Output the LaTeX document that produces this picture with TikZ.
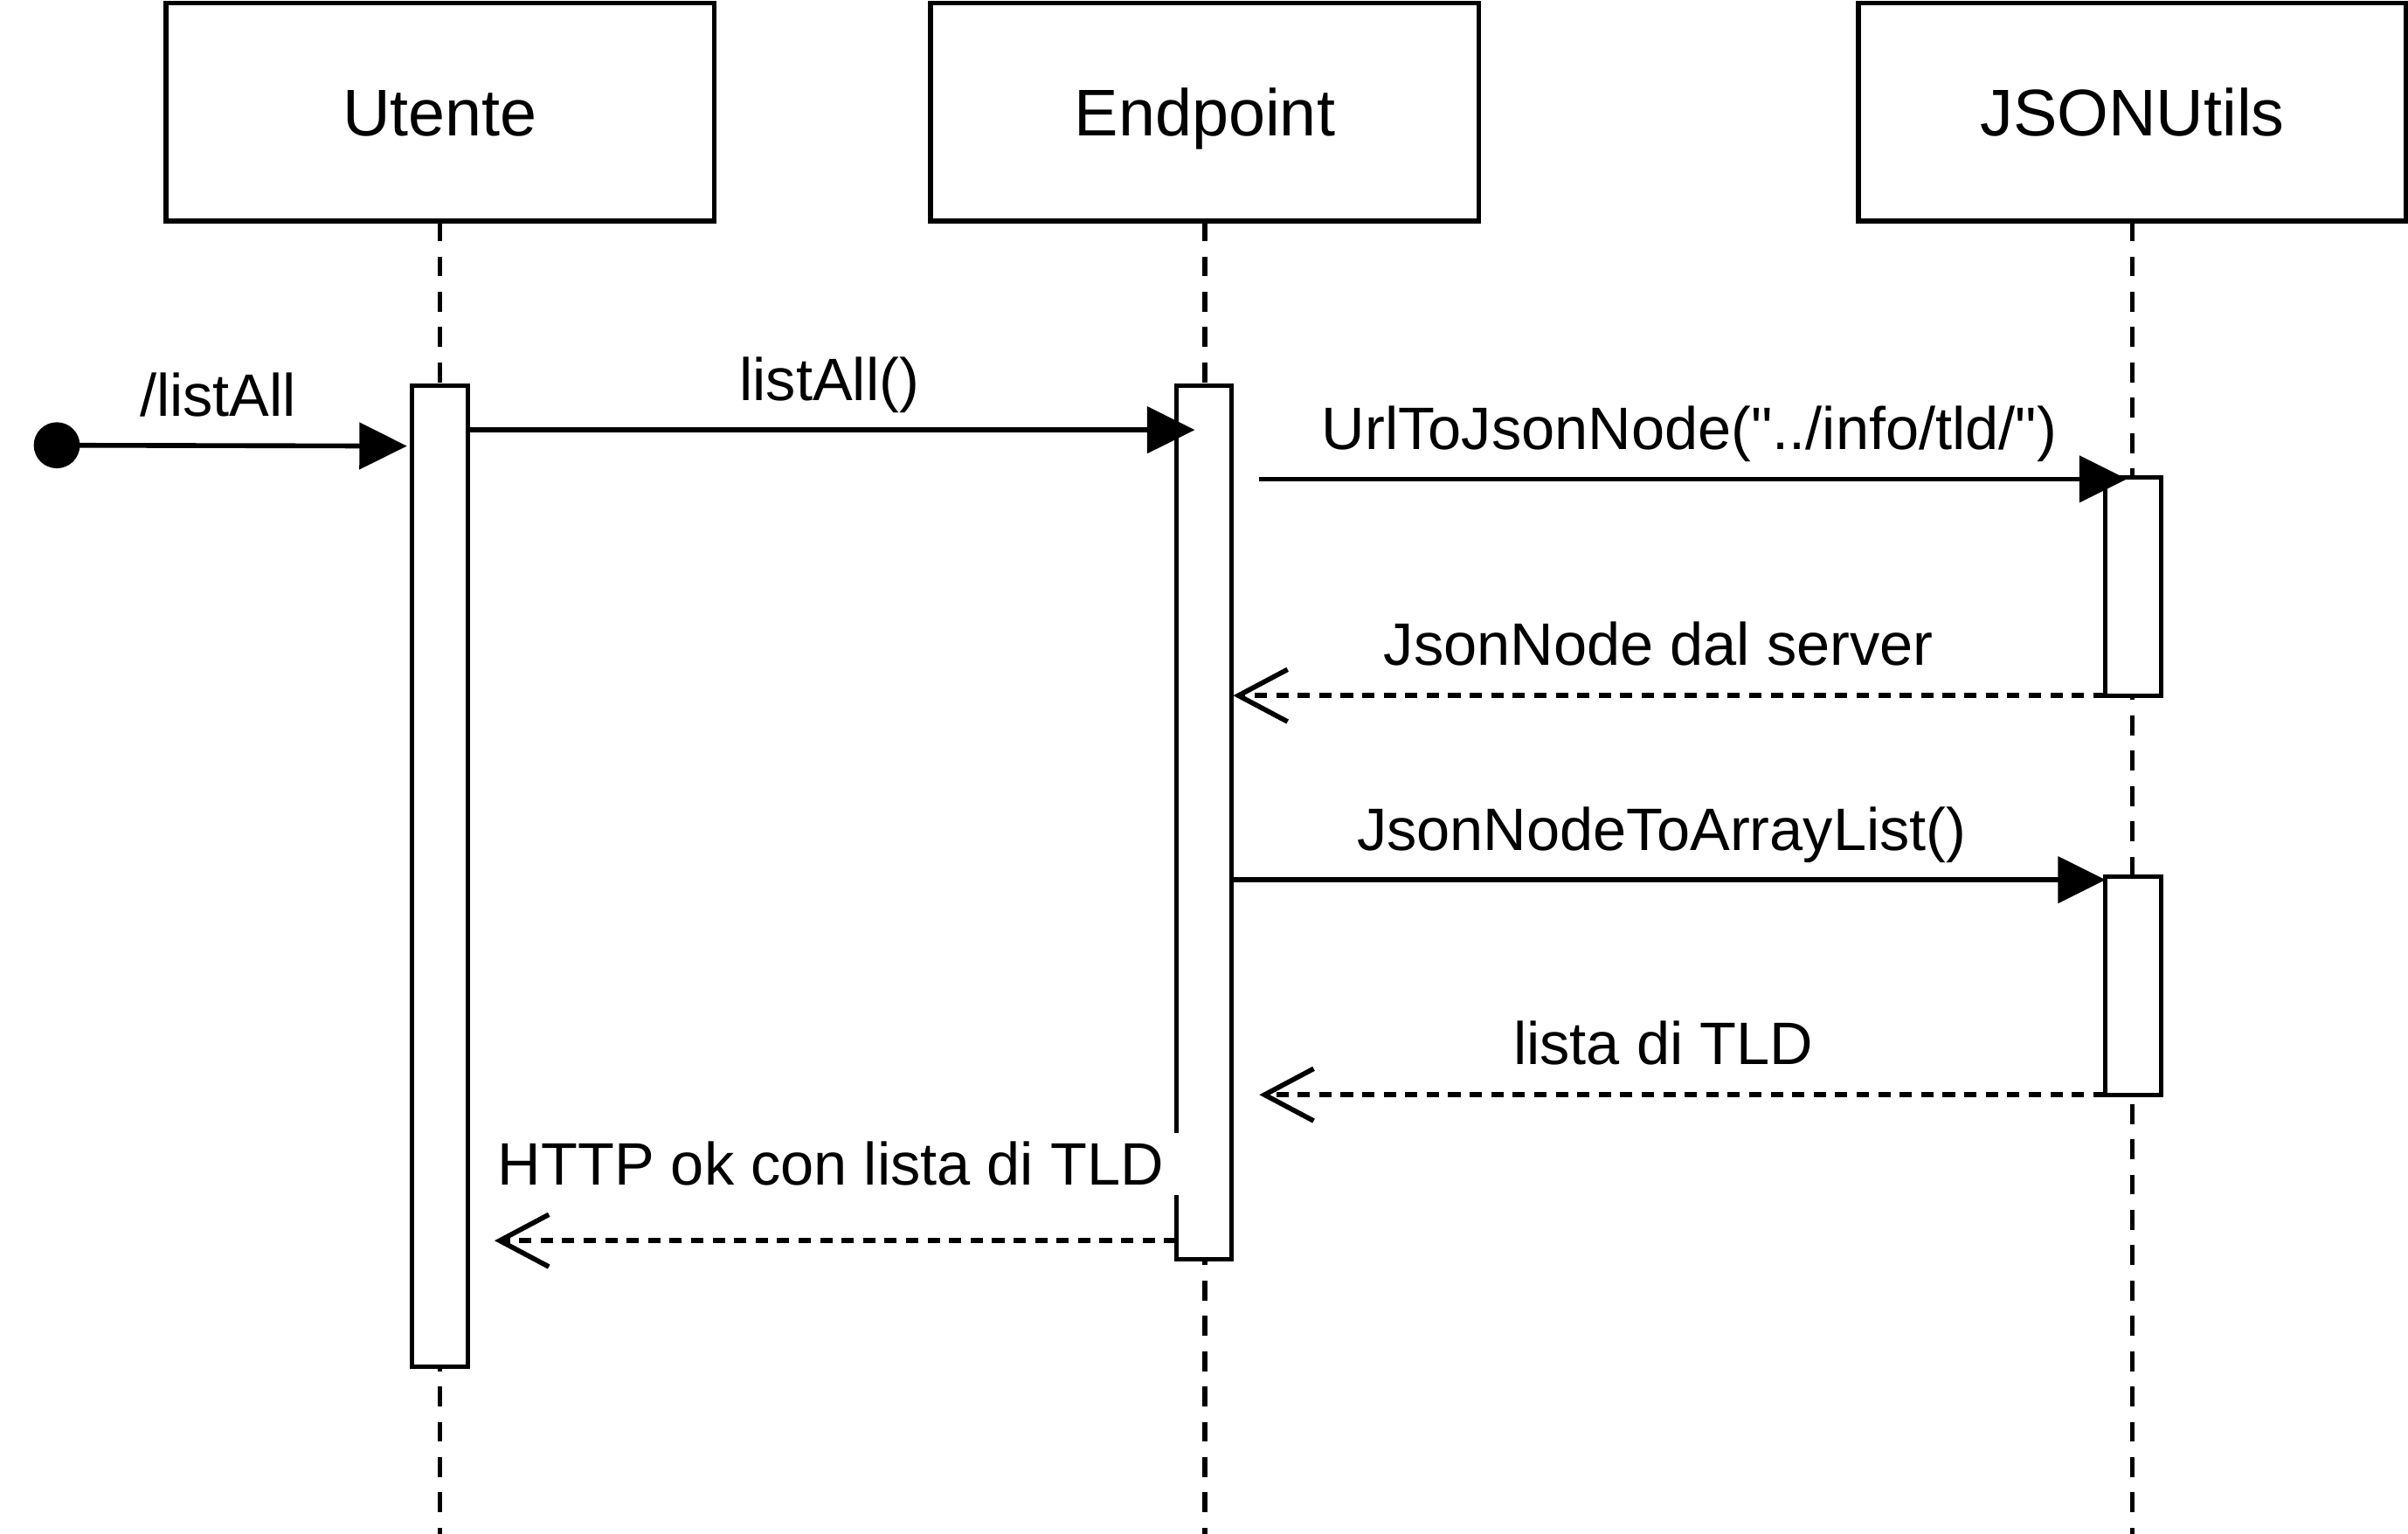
\documentclass[tikz,border=0pt]{standalone}
\usepackage{fontspec}
\setmainfont{Liberation Sans}[Ligatures=TeXOff]
\usetikzlibrary{arrows.meta}
\begin{document}
\begin{tikzpicture}[x=0.5pt,y=-0.5pt,
  head/.style={draw,line width=1.6pt,minimum width=178.5pt,minimum height=71pt,inner sep=0pt,outer sep=0pt,
    text height=15.4pt,text depth=0pt,font=\fontsize{21.5pt}{26pt}\selectfont},
  act/.style={draw,fill=white,line width=1.4pt,minimum width=18pt,inner sep=0pt,outer sep=0pt,anchor=north},
  life/.style={line width=1.5pt,dash pattern=on 6.5pt off 5pt},
  sync/.style={line width=1.6pt,-{Triangle[length=15.5pt,width=15pt]}},
  reply/.style={line width=1.6pt,dash pattern=on 4pt off 3pt,-{Straight Barb[length=16pt,width=17pt,line width=1.6pt]}},
  msg/.style={font=\fontsize{19.5pt}{23pt}\selectfont,anchor=base,inner sep=0pt}
]
\useasboundingbox (0,0) rectangle (1568,999);
\coordinate (bottom) at (0,999);

% lifeline heads
\node[head] (utente) at (286.5,73) {Utente};
\node[head] (endpoint) at (784.5,73) {Endpoint};
\node[head] (jsonutils) at (1388.5,73) {JSONUtils};

% lifelines
\draw[life] (utente.south) -- (utente.south |- bottom);
\draw[life] (endpoint.south) -- (endpoint.south |- bottom);
\draw[life] (jsonutils.south) -- (jsonutils.south |- bottom);

% activations
\node[act,minimum height=319.5pt] (uact) at (286.5,251) {};
\node[act,minimum height=284.5pt] (eact) at (784,251) {};
\node[act,minimum height=71pt] (jact1) at (1389,311) {};
\node[act,minimum height=71pt] (jact2) at (1389,571) {};

% start point
\node[circle,fill=black,inner sep=0pt,minimum size=15pt] (start) at (37,290) {};

% message end points
\coordinate (a0) at (265,290.5);
\coordinate (a1e) at (778,280);
\coordinate (a2s) at (820,312);
\coordinate (a2e) at (1385,312);
\coordinate (a3e) at (803,453);
\coordinate (a4s) at (802,573);
\coordinate (a5e) at (820,713);
\coordinate (a6s) at (766,808);
\coordinate (a6e) at (322,808);

% messages
\draw[sync] (start.center) -- (a0);
\draw[sync] (uact.east |- a1e) -- (a1e);
\draw[sync] (a2s) -- (a2e);
\draw[reply] (jact1.south west) -- (a3e);
\draw[sync] (a4s) -- (jact2.west |- a4s);
\draw[reply] (jact2.south west) -- (a5e);
\draw[reply] (a6s) -- (a6e);

% labels
\node[msg] (l0) at (142,271) {/listAll};
\node[msg] (l1) at (540,261) {listAll()};
\node[msg] (l2) at (1100,293) {UrlToJsonNode("../info/tld/")};
\node[msg] (l3) at (1080,433) {JsonNode dal server};
\node[msg] (l4) at (1082,554) {JsonNodeToArrayList()};
\node[msg] (l5) at (1083,693) {lista di TLD};
\node[msg,fill=white,inner xsep=5pt,inner ysep=3pt] (l6) at (541,772) {HTTP ok con lista di TLD};
\end{tikzpicture}
\end{document}
